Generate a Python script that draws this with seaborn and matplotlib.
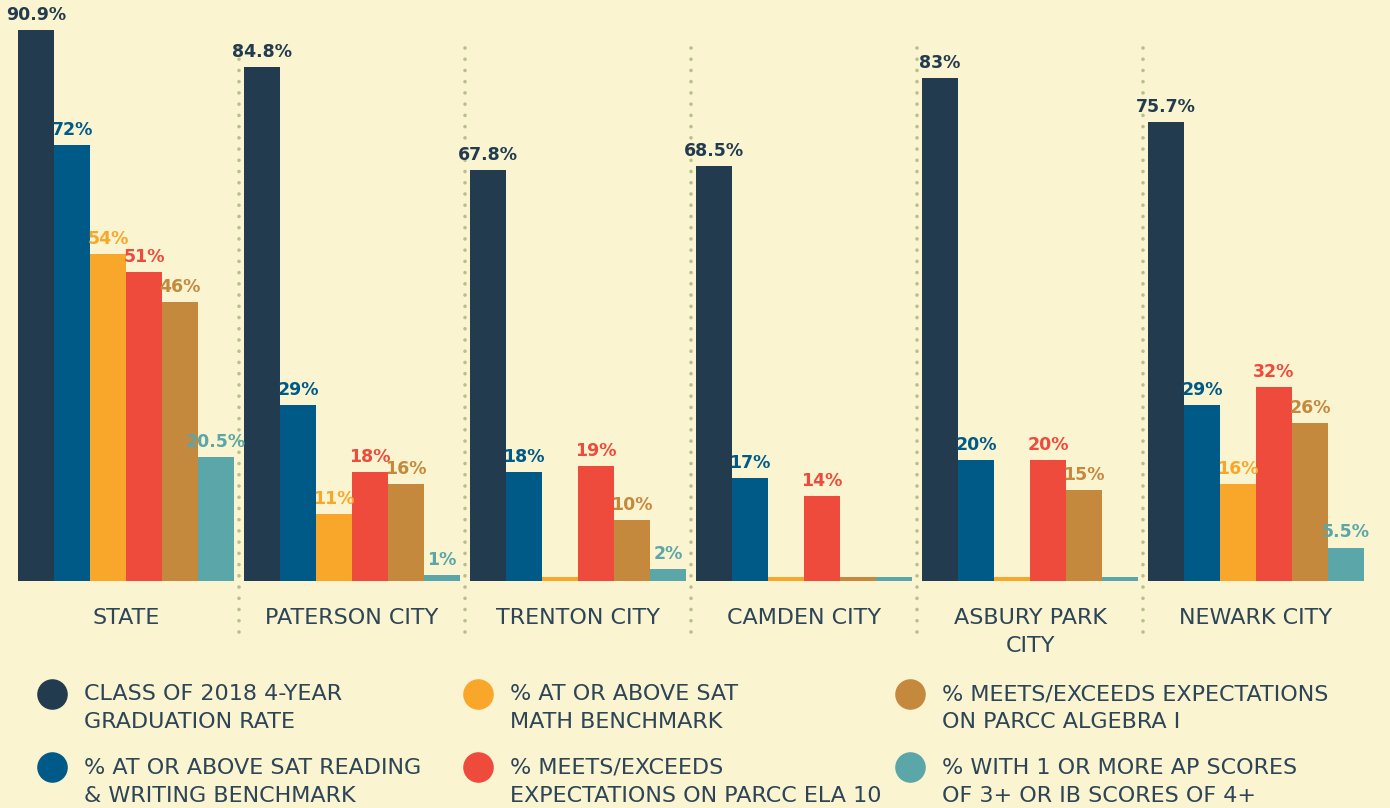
import matplotlib
matplotlib.use("Agg")
import matplotlib.pyplot as plt
from matplotlib.lines import Line2D
import seaborn as sns
import pandas as pd

districts = ["STATE", "PATERSON CITY", "TRENTON CITY", "CAMDEN CITY",
             "ASBURY PARK\nCITY", "NEWARK CITY"]
series = [
    "CLASS OF 2018 4-YEAR\nGRADUATION RATE",
    "% AT OR ABOVE SAT READING\n& WRITING BENCHMARK",
    "% AT OR ABOVE SAT\nMATH BENCHMARK",
    "% MEETS/EXCEEDS\nEXPECTATIONS ON PARCC ELA 10",
    "% MEETS/EXCEEDS EXPECTATIONS\nON PARCC ALGEBRA I",
    "% WITH 1 OR MORE AP SCORES\nOF 3+ OR IB SCORES OF 4+",
]
grad_rate = [90.9, 84.8, 67.8, 68.5, 83, 75.7]
sat_reading = [72, 29, 18, 17, 20, 29]
sat_math = [54, 11, 0, 0, 0, 16]
parcc_ela = [51, 18, 19, 14, 20, 32]
parcc_alg = [46, 16, 10, 0, 15, 26]
ap_ib = [20.5, 1, 2, 0, 0, 5.5]
labels = [
    ["90.9%", "84.8%", "67.8%", "68.5%", "83%", "75.7%"],
    ["72%", "29%", "18%", "17%", "20%", "29%"],
    ["54%", "11%", "", "", "", "16%"],
    ["51%", "18%", "19%", "14%", "20%", "32%"],
    ["46%", "16%", "10%", "", "15%", "26%"],
    ["20.5%", "1%", "2%", "", "", "5.5%"],
]
colors = ["#233b4f", "#005a87", "#f9a72b", "#ee4b3c", "#c5893e", "#5aa6a8"]

bg = "#faf4d0"
text_col = "#2d4557"

all_vals = [grad_rate, sat_reading, sat_math, parcc_ela, parcc_alg, ap_ib]
rows = []
for s, vals in zip(series, all_vals):
    for d, v in zip(districts, vals):
        # zero values still show a thin stub bar in the original
        rows.append({"district": d, "series": s, "value": v, "shown": max(v, 0.65)})
df = pd.DataFrame(rows)

sns.set_style("white")
plt.rcParams["font.family"] = ["DejaVu Sans"]

fig = plt.figure(figsize=(13.9, 8.08), dpi=100, facecolor=bg)
ax = fig.add_axes([0, 1 - 581 / 808, 1, 581 / 808])
ax.set_facecolor(bg)

sns.barplot(data=df, x="district", y="shown", hue="series", order=districts,
            hue_order=series, palette=colors, width=0.956, gap=0,
            saturation=1, legend=False, ax=ax, linewidth=0)

ax.set_xlim(-0.558, 5.593)
ax.set_ylim(0, 95.9)
for sp in ax.spines.values():
    sp.set_visible(False)
ax.set_yticks([])
ax.set_xlabel("")
ax.set_ylabel("")
ax.tick_params(axis="x", length=0, pad=19.5)
ax.set_xticks(range(len(districts)))
ax.set_xticklabels(districts, fontsize=16, color=text_col, va="top",
                   linespacing=1.5)

# value labels
for cont, labs, c in zip(ax.containers, labels, colors):
    ax.bar_label(cont, labels=labs, padding=4.5, color=c, fontsize=12.5,
                 fontweight="bold")

# dotted separators
for i in range(len(districts) - 1):
    ax.add_line(Line2D([i + 0.5, i + 0.5], [-8.4, 89.3], color="#b8bf8c",
                       lw=2.6, dashes=(0.01, 3.1), dash_capstyle="round",
                       clip_on=False))

# legend: three columns of two entries, marker level with first text line
col_marker_x = [52, 478, 910]
row_y = [694, 767]
for k, (lab, c) in enumerate(zip(series, colors)):
    cx = col_marker_x[k // 2]
    cy = row_y[k % 2]
    fig.add_artist(Line2D([cx / 1390], [1 - cy / 808], marker="o", ls="",
                          markersize=21, markerfacecolor=c, markeredgecolor=c,
                          transform=fig.transFigure))
    fig.text((cx + 32) / 1390, 1 - (cy - 9.5) / 808, lab, fontsize=16,
             color=text_col, va="top", ha="left", linespacing=1.5)

fig.savefig("out.png", dpi=100, facecolor=bg)
